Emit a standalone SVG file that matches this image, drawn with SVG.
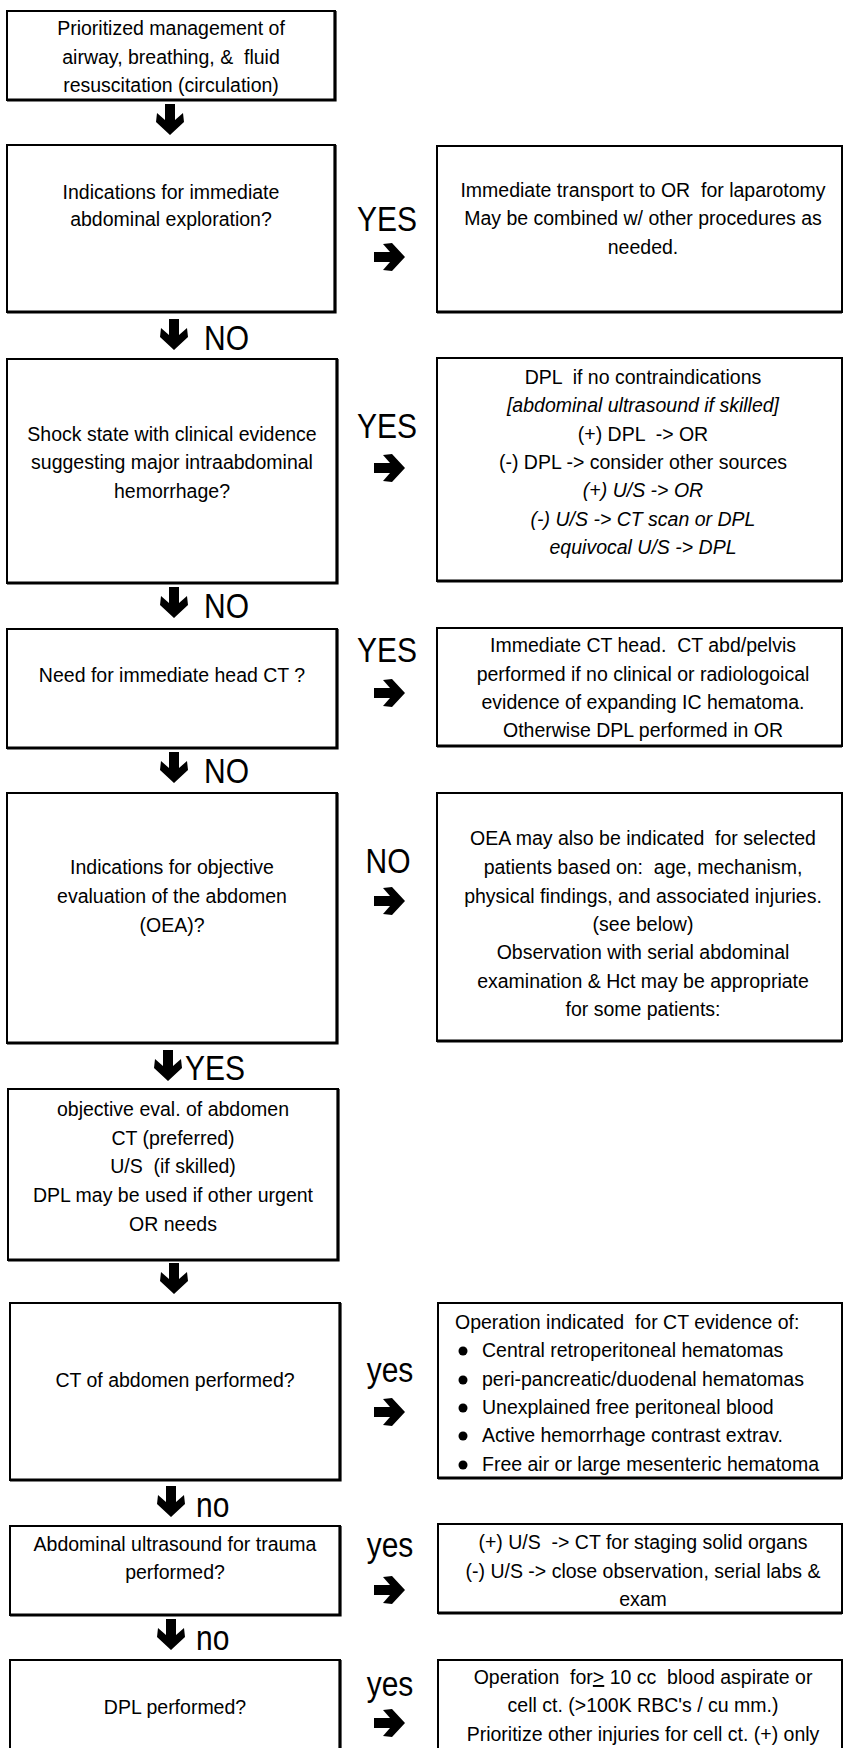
<svg xmlns="http://www.w3.org/2000/svg" width="843" height="1748" viewBox="0 0 843 1748" xml:space="preserve">
<style>
.box{fill:#fff;stroke:#000;stroke-width:2}
.hv{fill:none;stroke:#000;stroke-width:3.2}
text{font-family:"Liberation Sans",Arial,Helvetica,sans-serif;font-size:19.5px;fill:#000;white-space:pre}
.c{text-anchor:middle}
.i{font-style:italic}
.lbl{font-size:30px}
.arrow{fill:#000}
</style>
<defs>
<path id="arr" d="M-5,-31H5V-15L13,-22L14,-13L0,0L-14,-13L-13,-22L-5,-15Z"/>
</defs>
<rect width="843" height="1748" fill="#fff"/>

<g id="connectors">
<use href="#arr" class="arrow" transform="translate(170,135)"/>
<use href="#arr" class="arrow" transform="translate(405,257) rotate(-90)"/>
<use href="#arr" class="arrow" transform="translate(174,350)"/>
<use href="#arr" class="arrow" transform="translate(405,468) rotate(-90)"/>
<use href="#arr" class="arrow" transform="translate(174,618)"/>
<use href="#arr" class="arrow" transform="translate(405,693) rotate(-90)"/>
<use href="#arr" class="arrow" transform="translate(174,783)"/>
<use href="#arr" class="arrow" transform="translate(405,901) rotate(-90)"/>
<use href="#arr" class="arrow" transform="translate(168,1081)"/>
<use href="#arr" class="arrow" transform="translate(174,1294)"/>
<use href="#arr" class="arrow" transform="translate(405,1412) rotate(-90)"/>
<use href="#arr" class="arrow" transform="translate(171,1517)"/>
<use href="#arr" class="arrow" transform="translate(405,1590) rotate(-90)"/>
<use href="#arr" class="arrow" transform="translate(171,1650)"/>
<use href="#arr" class="arrow" transform="translate(405,1723) rotate(-90)"/>
<text class="lbl c" transform="translate(387,231) scale(1,1.15)">YES</text>
<text class="lbl" transform="translate(204,350) scale(1,1.15)">NO</text>
<text class="lbl c" transform="translate(387,438) scale(1,1.15)">YES</text>
<text class="lbl" transform="translate(204,618) scale(1,1.15)">NO</text>
<text class="lbl c" transform="translate(387,662) scale(1,1.15)">YES</text>
<text class="lbl" transform="translate(204,783) scale(1,1.15)">NO</text>
<text class="lbl c" transform="translate(388,873) scale(1,1.15)">NO</text>
<text class="lbl" transform="translate(185,1080) scale(1,1.15)">YES</text>
<text class="lbl c" transform="translate(390,1382) scale(1,1.15)">yes</text>
<text class="lbl" transform="translate(196,1517) scale(1,1.15)">no</text>
<text class="lbl c" transform="translate(390,1557) scale(1,1.15)">yes</text>
<text class="lbl" transform="translate(196,1650) scale(1,1.15)">no</text>
<text class="lbl c" transform="translate(390,1696) scale(1,1.15)">yes</text>
</g>

<g id="n1">
<rect class="box" x="7" y="11" width="328" height="89"/>
<path class="hv" d="M7,100H335V11"/>
<text class="c" x="171" y="35">Prioritized management of</text>
<text class="c" x="171" y="64">airway, breathing, &amp;  fluid</text>
<text class="c" x="171" y="92">resuscitation (circulation)</text>
</g>

<g id="n2">
<rect class="box" x="7" y="145" width="328" height="167"/>
<path class="hv" d="M7,312H335V145"/>
<text class="c" x="171" y="199">Indications for immediate</text>
<text class="c" x="171" y="226">abdominal exploration?</text>
</g>

<g id="r2">
<rect class="box" x="437" y="146" width="405" height="166"/>
<path class="hv" d="M437,312H842"/>
<text class="c" x="643" y="197">Immediate transport to OR  for laparotomy</text>
<text class="c" x="643" y="225">May be combined w/ other procedures as</text>
<text class="c" x="643" y="254">needed.</text>
</g>

<g id="n3">
<rect class="box" x="7" y="359" width="330" height="224"/>
<path class="hv" d="M7,583H337V359"/>
<text class="c" x="172" y="441">Shock state with clinical evidence</text>
<text class="c" x="172" y="469">suggesting major intraabdominal</text>
<text class="c" x="172" y="498">hemorrhage?</text>
</g>

<g id="r3">
<rect class="box" x="437" y="358" width="405" height="223"/>
<path class="hv" d="M437,581H842"/>
<text class="c" x="643" y="384">DPL  if no contraindications</text>
<text class="c i" x="643" y="412">[abdominal ultrasound if skilled]</text>
<text class="c" x="643" y="441">(+) DPL  -&gt; OR</text>
<text class="c" x="643" y="469">(-) DPL -&gt; consider other sources</text>
<text class="c i" x="643" y="497">(+) U/S -&gt; OR</text>
<text class="c i" x="643" y="526">(-) U/S -&gt; CT scan or DPL</text>
<text class="c i" x="643" y="554">equivocal U/S -&gt; DPL</text>
</g>

<g id="n4">
<rect class="box" x="7" y="629" width="330" height="119"/>
<path class="hv" d="M7,748H337V629"/>
<text class="c" x="172" y="682">Need for immediate head CT ?</text>
</g>

<g id="r4">
<rect class="box" x="437" y="628" width="405" height="118"/>
<path class="hv" d="M437,746H842"/>
<text class="c" x="643" y="652">Immediate CT head.  CT abd/pelvis</text>
<text class="c" x="643" y="681">performed if no clinical or radiologoical</text>
<text class="c" x="643" y="709">evidence of expanding IC hematoma.</text>
<text class="c" x="643" y="737">Otherwise DPL performed in OR</text>
</g>

<g id="n5">
<rect class="box" x="7" y="793" width="330" height="250"/>
<path class="hv" d="M7,1043H337V793"/>
<text class="c" x="172" y="874">Indications for objective</text>
<text class="c" x="172" y="903">evaluation of the abdomen</text>
<text class="c" x="172" y="932">(OEA)?</text>
</g>

<g id="r5">
<rect class="box" x="437" y="793" width="405" height="248"/>
<path class="hv" d="M437,1041H842"/>
<text class="c" x="643" y="845">OEA may also be indicated  for selected</text>
<text class="c" x="643" y="874">patients based on:  age, mechanism,</text>
<text class="c" x="643" y="903">physical findings, and associated injuries.</text>
<text class="c" x="643" y="931">(see below)</text>
<text class="c" x="643" y="959">Observation with serial abdominal</text>
<text class="c" x="643" y="988">examination &amp; Hct may be appropriate</text>
<text class="c" x="643" y="1016">for some patients:</text>
</g>

<g id="n6">
<rect class="box" x="8" y="1089" width="330" height="171"/>
<path class="hv" d="M8,1260H338V1089"/>
<text class="c" x="173" y="1116">objective eval. of abdomen</text>
<text class="c" x="173" y="1145">CT (preferred)</text>
<text class="c" x="173" y="1173">U/S  (if skilled)</text>
<text class="c" x="173" y="1202">DPL may be used if other urgent</text>
<text class="c" x="173" y="1231">OR needs</text>
</g>

<g id="n7">
<rect class="box" x="10" y="1303" width="330" height="177"/>
<path class="hv" d="M10,1480H340V1303"/>
<text class="c" x="175" y="1387">CT of abdomen performed?</text>
</g>

<g id="r7">
<rect class="box" x="438" y="1303" width="404" height="175"/>
<path class="hv" d="M438,1478H842"/>
<text x="455" y="1329">Operation indicated  for CT evidence of:</text>
<circle cx="463" cy="1351" r="4.5"/>
<text x="482" y="1357">Central retroperitoneal hematomas</text>
<circle cx="463" cy="1380" r="4.5"/>
<text x="482" y="1386">peri-pancreatic/duodenal hematomas</text>
<circle cx="463" cy="1408" r="4.5"/>
<text x="482" y="1414">Unexplained free peritoneal blood</text>
<circle cx="463" cy="1436" r="4.5"/>
<text x="482" y="1442">Active hemorrhage contrast extrav.</text>
<circle cx="463" cy="1465" r="4.5"/>
<text x="482" y="1471">Free air or large mesenteric hematoma</text>
</g>

<g id="n8">
<rect class="box" x="10" y="1526" width="330" height="89"/>
<path class="hv" d="M10,1615H340V1526"/>
<text class="c" x="175" y="1551">Abdominal ultrasound for trauma</text>
<text class="c" x="175" y="1579">performed?</text>
</g>

<g id="r8">
<rect class="box" x="438" y="1524" width="404" height="89"/>
<path class="hv" d="M438,1613H842"/>
<text class="c" x="643" y="1549">(+) U/S  -&gt; CT for staging solid organs</text>
<text class="c" x="643" y="1578">(-) U/S -&gt; close observation, serial labs &amp;</text>
<text class="c" x="643" y="1606">exam</text>
</g>

<g id="n9">
<rect class="box" x="10" y="1660" width="330" height="100"/>
<path class="hv" d="M340,1760V1660"/>
<text class="c" x="175" y="1714">DPL performed?</text>
</g>

<g id="r9">
<rect class="box" x="438" y="1660" width="404" height="100"/>
<text class="c" x="643" y="1684">Operation  for<tspan text-decoration="underline">&gt;</tspan> 10 cc  blood aspirate or</text>
<text class="c" x="643" y="1712">cell ct. (&gt;100K RBC's / cu mm.)</text>
<text class="c" x="643" y="1741">Prioritize other injuries for cell ct. (+) only</text>
</g>
</svg>
